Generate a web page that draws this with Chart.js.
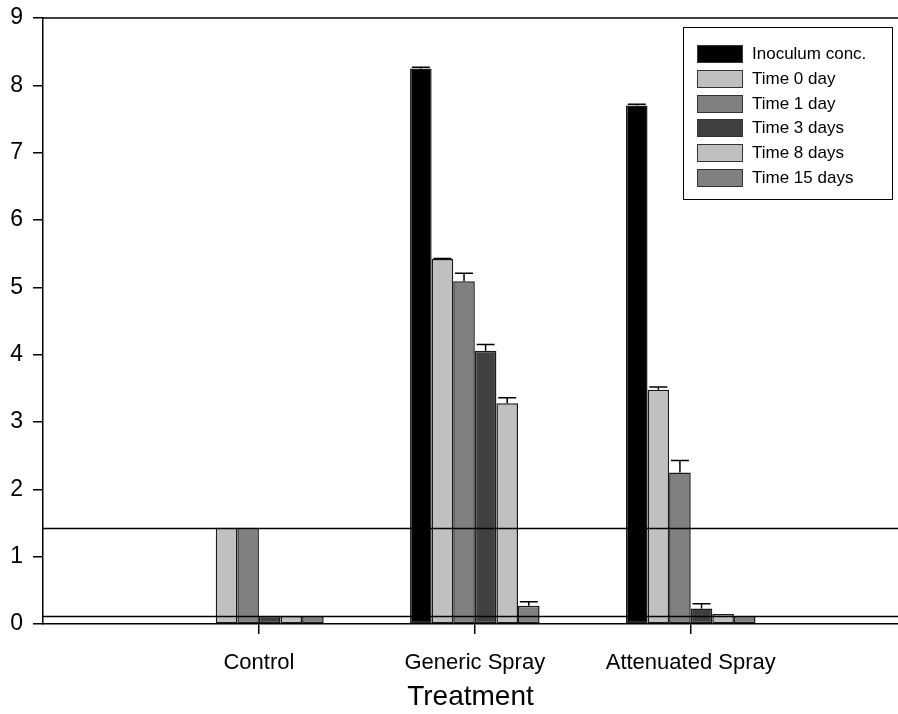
<!DOCTYPE html>
<html>
<head>
<meta charset="utf-8">
<script src="https://cdn.jsdelivr.net/npm/chart.js@4.4.0/dist/chart.umd.min.js"></script>
<style>
  html, body { margin: 0; padding: 0; background: #fff; overflow: hidden; }
  #wrap { position: relative; width: 898px; height: 714px; }
  #legend {
    position: absolute; left: 683px; top: 27px; width: 210px; height: 173px;
    border: 1.5px solid #000; box-sizing: border-box; padding-top: 14px;
    font-family: 'Liberation Sans', Arial, sans-serif; font-size: 17px; color: #000;
  }
  .item { display: flex; align-items: center; height: 24.7px; margin-left: 13px; }
  .sw { width: 46px; height: 18px; border: 1.5px solid #333; margin-right: 9px; box-sizing: border-box; }
</style>
</head>
<body>
<div id="wrap">
  <canvas id="c" width="898" height="714"></canvas>
  <div id="legend"></div>
</div>
<script>
// data
const categories = ['Control', 'Generic Spray', 'Attenuated Spray'];
const seriesNames = ['Inoculum conc.', 'Time 0 day', 'Time 1 day', 'Time 3 days', 'Time 8 days', 'Time 15 days'];
const inoculum = [null, 8.25, 7.70];
const day0 = [1.43, 5.42, 3.48];
const day1 = [1.43, 5.09, 2.25];
const day3 = [0.12, 4.06, 0.23];
const day8 = [0.12, 3.28, 0.15];
const day15 = [0.12, 0.27, 0.12];
// upper error bars
const inoculumErr = [0, 0.02, 0.02];
const day0Err = [0, 0.01, 0.04];
const day1Err = [0, 0.12, 0.18];
const day3Err = [0, 0.09, 0.07];
const day8Err = [0, 0.08, 0];
const day15Err = [0, 0.06, 0];
const yTicks = [0, 1, 2, 3, 4, 5, 6, 7, 8, 9];
const limitLines = [1.43, 0.12];

const colors = ['#000000', '#c0c0c0', '#808080', '#404040', '#c0c0c0', '#808080'];
const values = [inoculum, day0, day1, day3, day8, day15];
const errors = [inoculumErr, day0Err, day1Err, day3Err, day8Err, day15Err];

const datasets = values.map((vals, k) => ({
  label: seriesNames[k],
  data: vals.map((v, i) => ({ x: i + 1, y: v })),
  backgroundColor: colors[k],
  borderColor: '#1a1a1a',
  borderWidth: 1.5,
  borderSkipped: false,
  categoryPercentage: 0.6,
  barPercentage: 1.0,
  errs: errors[k]
}));

// html legend
const legend = document.getElementById('legend');
datasets.forEach(ds => {
  const row = document.createElement('div');
  row.className = 'item';
  row.innerHTML = '<span class="sw" style="background:' + ds.backgroundColor + '"></span><span>' + ds.label + '</span>';
  legend.appendChild(row);
});

const extras = {
  id: 'extras',
  afterDatasetsDraw(chart) {
    const ctx = chart.ctx;
    const ys = chart.scales.y;
    const area = chart.chartArea;
    ctx.save();
    ctx.strokeStyle = '#000';
    ctx.lineWidth = 1.5;
    // error bars (upper only)
    chart.data.datasets.forEach((ds, k) => {
      const meta = chart.getDatasetMeta(k);
      meta.data.forEach((bar, i) => {
        const v = ds.data[i].y;
        const e = ds.errs[i];
        if (v == null || !e) return;
        const top = ys.getPixelForValue(v + e);
        ctx.beginPath();
        ctx.moveTo(bar.x, bar.y);
        ctx.lineTo(bar.x, top);
        ctx.moveTo(bar.x - 9, top);
        ctx.lineTo(bar.x + 9, top);
        ctx.stroke();
      });
    });
    // reference lines
    limitLines.forEach(v => {
      const y = Math.round(ys.getPixelForValue(v)) + 0.5;
      ctx.beginPath();
      ctx.moveTo(area.left, y);
      ctx.lineTo(area.right, y);
      ctx.stroke();
    });
    // top frame line
    ctx.beginPath();
    ctx.moveTo(area.left, area.top);
    ctx.lineTo(area.right, area.top);
    ctx.stroke();
    ctx.restore();
  }
};

new Chart(document.getElementById('c'), {
  type: 'bar',
  data: { datasets },
  plugins: [extras],
  options: {
    responsive: false,
    animation: false,
    devicePixelRatio: 1,
    layout: { padding: { top: 18, right: 0, left: 0, bottom: 0 } },
    plugins: { legend: { display: false }, tooltip: { enabled: false } },
    scales: {
      x: {
        type: 'linear',
        offset: false,
        min: 0,
        max: 3.96,
        afterBuildTicks: axis => { axis.ticks = categories.map((c, i) => ({ value: i + 1 })); },
        afterFit: axis => { axis.height = 90; },
        ticks: {
          callback: v => categories[v - 1],
          color: '#000',
          font: { family: "'Liberation Sans', Arial, sans-serif", size: 22 },
          padding: 16,
          maxRotation: 0
        },
        grid: { offset: false, drawOnChartArea: false, drawTicks: true, tickLength: 10, color: '#000', lineWidth: 1.5 },
        border: { display: true, color: '#000', width: 1.5 },
        title: {
          display: true,
          text: 'Treatment',
          color: '#000',
          font: { family: "'Liberation Sans', Arial, sans-serif", size: 28 },
          padding: { top: 4, bottom: 0 }
        }
      },
      y: {
        min: 0,
        max: 9,
        afterBuildTicks: axis => { axis.ticks = yTicks.map(v => ({ value: v })); },
        afterFit: axis => { axis.width = 43; axis.paddingTop = 0; axis.paddingBottom = 0; },
        ticks: {
          color: '#000',
          font: { family: "'Liberation Sans', Arial, sans-serif", size: 23 },
          padding: 10
        },
        grid: { drawOnChartArea: false, drawTicks: true, tickLength: 10, color: '#000', lineWidth: 1.5 },
        border: { display: true, color: '#000', width: 1.5 }
      }
    }
  }
});
</script>
</body>
</html>
